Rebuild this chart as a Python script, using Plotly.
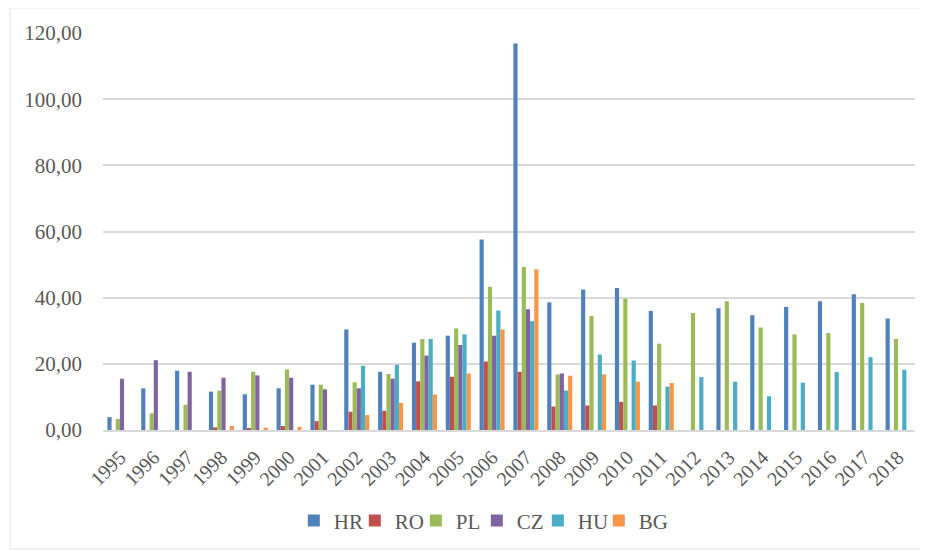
import plotly.graph_objects as go

years = [str(y) for y in range(1995, 2019)]

HR = [3.9, 12.6, 17.9, 11.6, 10.8, 12.6, 13.7, 30.4, 17.6, 26.4, 28.5, 57.6, 116.8, 38.6, 42.5, 42.9, 36.0, None, 36.8, 34.7, 37.2, 38.9, 41.0, 33.7]
RO = [None, None, None, 0.8, 0.6, 1.2, 2.7, 5.5, 5.8, 14.7, 16.1, 20.7, 17.6, 7.1, 7.4, 8.5, 7.4, None, None, None, None, None, None, None]
PL = [3.3, 5.0, 7.6, 11.9, 17.6, 18.3, 13.7, 14.4, 16.9, 27.5, 30.7, 43.3, 49.3, 16.8, 34.5, 39.7, 26.1, 35.4, 38.9, 31.0, 28.9, 29.3, 38.4, 27.5]
CZ = [15.5, 21.1, 17.6, 15.8, 16.5, 15.8, 12.3, 12.6, 15.5, 22.5, 25.7, 28.5, 36.5, 17.1, None, None, None, None, None, None, None, None, None, None]
HU = [None, None, None, None, None, None, None, 19.4, 19.7, 27.5, 28.9, 36.1, 32.9, 11.9, 22.8, 21.0, 13.1, 16.0, 14.6, 10.2, 14.3, 17.5, 22.0, 18.2]
BG = [None, None, None, 1.2, 0.7, 0.9, None, 4.5, 8.2, 10.7, 17.1, 30.4, 48.6, 16.4, 16.8, 14.6, 14.2, None, None, None, None, None, None, None]

series = [("HR", HR, "#4F81BD"), ("RO", RO, "#C0504D"), ("PL", PL, "#9BBB59"),
          ("CZ", CZ, "#8064A2"), ("HU", HU, "#4BACC6"), ("BG", BG, "#F79646")]

fig = go.Figure()
for name, vals, col in series:
    fig.add_trace(go.Bar(x=years, y=vals, name=name, marker=dict(color=col, line=dict(width=0))))

# invisible spacer entry so the last legend label is not clipped
fig.add_trace(go.Scatter(x=[None], y=[None], mode="markers", name=" ",
                         marker=dict(color="rgba(0,0,0,0)"), hoverinfo="skip"))

font = "Liberation Serif, Times New Roman, serif"
fig.update_layout(
    width=928, height=551,
    margin=dict(l=95, r=21, t=25, b=129),
    paper_bgcolor="white", plot_bgcolor="white",
    barmode="group", bargap=0.26, bargroupgap=0,
    separators=",.",
    font=dict(family=font, size=21, color="#595959"),
    showlegend=True,
    legend=dict(orientation="h", x=0.235, xanchor="left", y=-0.229, yanchor="middle",
                font=dict(family=font, size=21, color="#595959"), itemwidth=30,
                entrywidth=16, entrywidthmode="pixels",
                traceorder="normal"),
    xaxis=dict(type="category", tickangle=-45, showgrid=False, showline=True,
               linecolor="#D9D9D9", linewidth=1.5, ticks="",
               tickfont=dict(family=font, size=20, color="#595959"),
               ticklabelstandoff=6),
    yaxis=dict(range=[0, 120], dtick=20, tickformat=".2f", showgrid=True,
               gridcolor="#D9D9D9", gridwidth=1.5, zeroline=False, showline=False,
               tickfont=dict(family=font, size=21, color="#595959"),
               ticklabelstandoff=20),
    shapes=[dict(type="rect", xref="paper", yref="paper",
                 x0=-0.1145, x1=1.0135, y0=-0.2997, y1=1.063,
                 line=dict(color="#E3E3E3", width=1), fillcolor="rgba(0,0,0,0)", layer="below")],
)

fig.write_html("out.html")
